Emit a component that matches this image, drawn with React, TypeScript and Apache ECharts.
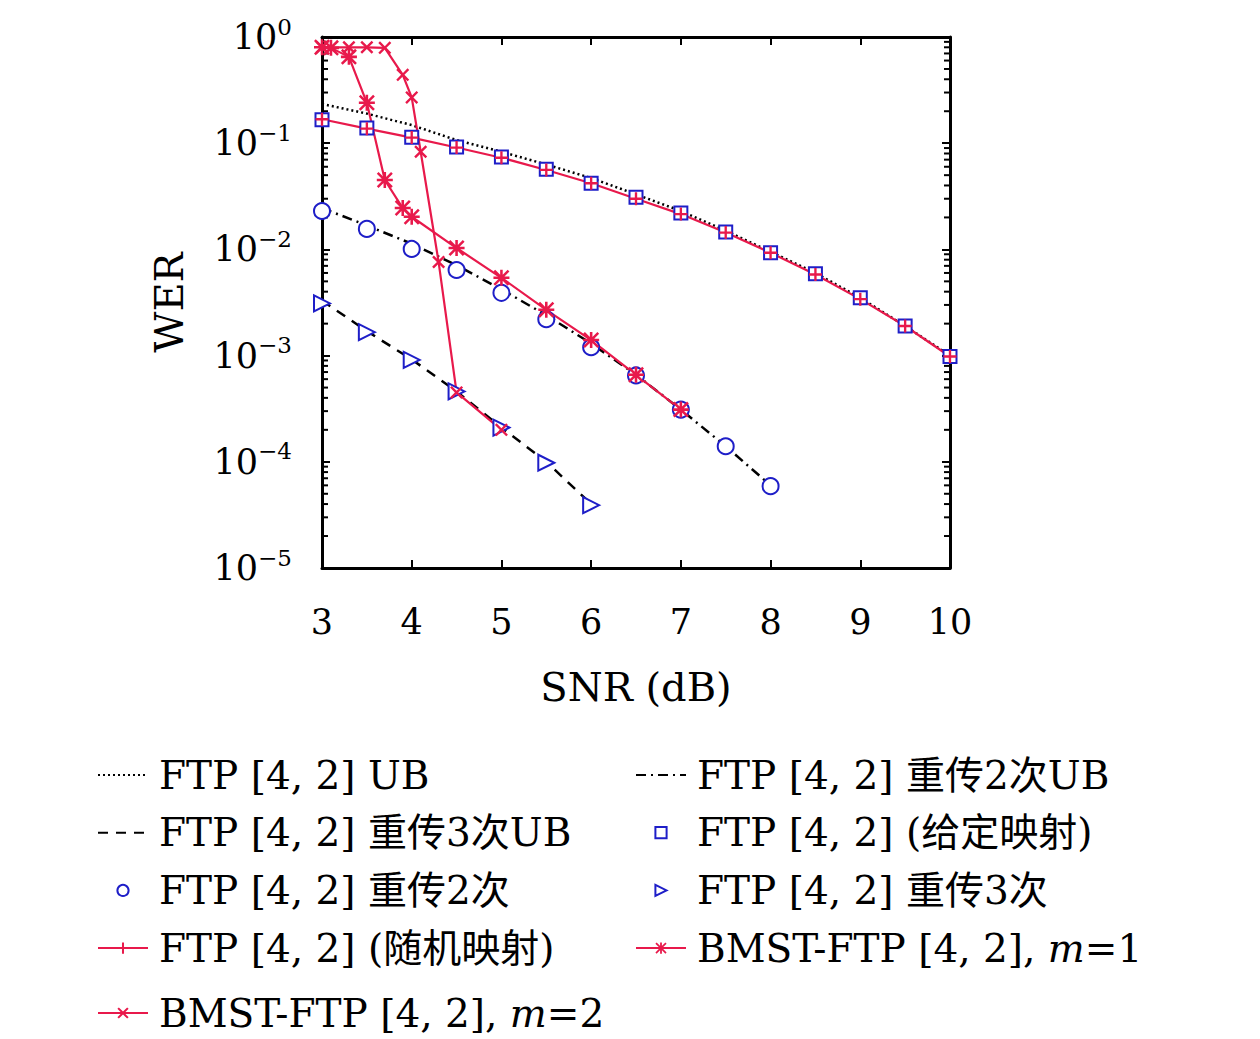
import React, { useEffect, useRef } from "react";
import * as echarts from "echarts";

const FONT = '"DejaVu Serif", "Noto Sans CJK SC", serif';

// ---- data ----
const snrHalf = [3, 3.5, 4, 4.5, 5, 5.5, 6, 6.5, 7, 7.5, 8, 8.5, 9, 9.5, 10];
const ftpUB = [0.234, 0.19, 0.148, 0.107, 0.083, 0.063, 0.047, 0.033, 0.023, 0.015, 0.0095, 0.006, 0.0035, 0.0019, 0.001];
const ftpGiven = [0.166, 0.139, 0.114, 0.092, 0.074, 0.057, 0.042, 0.031, 0.022, 0.0146, 0.0093, 0.0059, 0.0035, 0.0019, 0.00098];
const ftpRandom = [0.168, 0.137, 0.113, 0.091, 0.073, 0.056, 0.042, 0.03, 0.0215, 0.0144, 0.0093, 0.0058, 0.0034, 0.0019, 0.00098];

const snrRetx2 = [3, 3.5, 4, 4.5, 5, 5.5, 6, 6.5, 7, 7.5, 8];
const retx2UB = [0.0245, 0.0168, 0.0113, 0.0071, 0.0042, 0.0024, 0.0013, 0.00066, 0.00031, 0.00014, 0.00006];
const retx2 = [0.023, 0.0156, 0.0101, 0.0064, 0.0039, 0.0022, 0.0012, 0.00065, 0.00031, 0.00014, 0.000059];

const snrRetx3 = [3, 3.5, 4, 4.5, 5, 5.5, 6];
const retx3UB = [0.0033, 0.0017, 0.00092, 0.00046, 0.00021, 0.0001, 0.00004];
const retx3 = [0.0031, 0.00166, 0.00091, 0.00046, 0.00021, 0.000098, 0.000039];

const snrM1 = [3.0, 3.1, 3.3, 3.5, 3.7, 3.9, 4.0, 4.5, 5.0, 5.5, 6.0, 6.5, 7.0];
const bmstM1 = [0.8, 0.79, 0.65, 0.24, 0.045, 0.0245, 0.0203, 0.0103, 0.0054, 0.0027, 0.0014, 0.00066, 0.00031];

const snrM2 = [3.0, 3.3, 3.5, 3.7, 3.9, 4.0, 4.1, 4.3, 4.5, 5.0];
const bmstM2 = [0.8, 0.8, 0.8, 0.79, 0.44, 0.27, 0.083, 0.0076, 0.00045, 0.0002];

const X_MIN = 3;
const X_MAX = 10;
const Y_MIN = 1e-5;
const Y_MAX = 1;

const N_UB = "FTP [4, 2] UB";
const N_UB2 = "FTP [4, 2] 重传2次UB";
const N_UB3 = "FTP [4, 2] 重传3次UB";
const N_GIVEN = "FTP [4, 2] (给定映射)";
const N_R2 = "FTP [4, 2] 重传2次";
const N_R3 = "FTP [4, 2] 重传3次";
const N_RAND = "FTP [4, 2] (随机映射)";
const N_M1 = "BMST-FTP [4, 2], m=1";
const N_M2 = "BMST-FTP [4, 2], m=2";

const zip = (xs: number[], ys: number[]) => xs.map((x, i) => [x, ys[i]]);

const RED = "#e8194b";
const BLUE = "#1e1ec8";

const PLUS = "path://M4.1,0H5.9V4.1H10V5.9H5.9V10H4.1V5.9H0V4.1H4.1Z";
const CROSS = "path://M1.3,0L5,3.7L8.7,0L10,1.3L6.3,5L10,8.7L8.7,10L5,6.3L1.3,10L0,8.7L3.7,5L0,1.3Z";
const STAR =
  "path://M4.2,0H5.8V4.2H10V5.8H5.8V10H4.2V5.8H0V4.2H4.2Z M1.1,0L5,3.9L8.9,0L10,1.1L6.1,5L10,8.9L8.9,10L5,6.1L1.1,10L0,8.9L3.9,5L0,1.1Z";

const minorVals: number[] = [];
for (let e = -5; e < 0; e++) {
  for (let k = 2; k <= 9; k++) minorVals.push(k * Math.pow(10, e));
}

export default function App() {
  const ref = useRef<HTMLDivElement>(null);
  useEffect(() => {
    if (!ref.current) return;
    const chart = echarts.init(ref.current, null, { renderer: "svg" });
    const axisText = { fontFamily: FONT, fontSize: 35, color: "#000" };
    const LF = 39;
    const legendText = {
      fontFamily: FONT,
      fontSize: LF,
      color: "#000",
      lineHeight: 40,
      padding: [0, 0, 0, 6],
      rich: {
        n: { fontFamily: FONT, fontSize: LF, color: "#000" },
        i: { fontFamily: FONT, fontSize: LF, color: "#000", fontStyle: "italic" },
      },
    };
    const legendFmt = (name: string) => {
      const idx = name.indexOf("m=");
      if (idx >= 0) {
        return `{n|${name.slice(0, idx)}}{i|m}{n|${name.slice(idx + 1)}}`;
      }
      return `{n|${name}}`;
    };
    const legendBase = {
      orient: "vertical",
      padding: 0,
      itemGap: 17.7,
      itemWidth: 50,
      itemHeight: 14,
      textStyle: legendText,
      formatter: legendFmt,
      selectedMode: false,
    };
    const lineOnly = (name: string) => ({ name, itemStyle: { opacity: 0 } });
    const option: any = {
      animation: false,
      backgroundColor: "#ffffff",
      grid: { left: 322, top: 37, width: 628, height: 531, containLabel: false },
      xAxis: [
        {
          type: "value",
          min: X_MIN,
          max: X_MAX,
          interval: 1,
          position: "bottom",
          axisLine: { show: true, onZero: false, lineStyle: { color: "#000", width: 3 } },
          axisTick: { show: true, inside: true, length: 8, lineStyle: { color: "#000", width: 2 } },
          axisLabel: { ...axisText, margin: 36 },
          splitLine: { show: false },
          name: "SNR (dB)",
          nameLocation: "middle",
          nameGap: 99,
          nameTextStyle: { ...axisText, fontSize: 40 },
        },
        {
          type: "value",
          min: X_MIN,
          max: X_MAX,
          interval: 1,
          position: "top",
          axisLine: { show: true, onZero: false, lineStyle: { color: "#000", width: 3 } },
          axisTick: { show: true, inside: true, length: 8, lineStyle: { color: "#000", width: 2 } },
          axisLabel: { show: false },
          splitLine: { show: false },
        },
      ],
      yAxis: [
        {
          type: "log",
          logBase: 10,
          min: Y_MIN,
          max: Y_MAX,
          splitNumber: 5,
          position: "left",
          axisLine: { show: true, onZero: false, lineStyle: { color: "#000", width: 3 } },
          axisTick: { show: true, inside: true, length: 8, lineStyle: { color: "#000", width: 2 } },
          splitLine: { show: false },
          axisLabel: {
            margin: 30,
            formatter: (v: number) => {
              const e = Math.round(Math.log10(v));
              const s = e < 0 ? "\u2212" + Math.abs(e) : String(e);
              return `{b|10}{s|${s}}`;
            },
            rich: {
              b: { fontFamily: FONT, fontSize: 35, color: "#000", lineHeight: 44 },
              s: { fontFamily: FONT, fontSize: 23, color: "#000", verticalAlign: "top", lineHeight: 24 },
            },
          },
          name: "WER",
          nameLocation: "middle",
          nameRotate: 90,
          nameGap: 133,
          nameTextStyle: { ...axisText, fontSize: 40 },
        },
        {
          type: "log",
          logBase: 10,
          min: Y_MIN,
          max: Y_MAX,
          splitNumber: 5,
          position: "right",
          axisLine: { show: true, onZero: false, lineStyle: { color: "#000", width: 3 } },
          axisTick: { show: true, inside: true, length: 8, lineStyle: { color: "#000", width: 2 } },
          axisLabel: { show: false },
          splitLine: { show: false },
        },
      ],
      legend: [
        { ...legendBase, left: 97, top: 755, data: [lineOnly(N_UB), lineOnly(N_UB3), N_R2, N_RAND] },
        { ...legendBase, left: 635, top: 755, data: [lineOnly(N_UB2), N_GIVEN, N_R3, N_M1] },
        { ...legendBase, left: 97, top: 993, data: [N_M2] },
      ],
      series: [
        {
          type: "custom",
          name: "minorTicks",
          silent: true,
          clip: false,
          data: minorVals.map((v) => [X_MIN, v]),
          renderItem: (params: any, api: any) => {
            const v = api.value(1);
            const l = api.coord([X_MIN, v]);
            const r = api.coord([X_MAX, v]);
            const st = { stroke: "#000", lineWidth: 2 };
            return {
              type: "group",
              children: [
                { type: "line", shape: { x1: l[0], y1: l[1], x2: l[0] + 6, y2: l[1] }, style: st },
                { type: "line", shape: { x1: r[0] - 6, y1: r[1], x2: r[0], y2: r[1] }, style: st },
              ],
            };
          },
        },
        {
          type: "line",
          name: N_UB,
          data: zip(snrHalf, ftpUB),
          symbol: "none",
          lineStyle: { color: "#000", width: 2.5, type: [2, 3] },
          itemStyle: { color: "#000" },
        },
        {
          type: "line",
          name: N_UB2,
          data: zip(snrRetx2, retx2UB),
          symbol: "none",
          lineStyle: { color: "#000", width: 2.5, type: [10, 5, 2, 5] },
          itemStyle: { color: "#000" },
        },
        {
          type: "line",
          name: N_UB3,
          data: zip(snrRetx3, retx3UB),
          symbol: "none",
          lineStyle: { color: "#000", width: 2.5, type: [10, 8] },
          itemStyle: { color: "#000" },
        },
        {
          type: "line",
          name: N_GIVEN,
          data: zip(snrHalf, ftpGiven),
          symbol: "emptyRect",
          symbolSize: 13,
          showAllSymbol: true,
          lineStyle: { width: 0, opacity: 0 },
          itemStyle: { color: BLUE, borderColor: BLUE, borderWidth: 2.2 },
        },
        {
          type: "line",
          name: N_R2,
          data: zip(snrRetx2, retx2),
          symbol: "emptyCircle",
          symbolSize: 16,
          showAllSymbol: true,
          lineStyle: { width: 0, opacity: 0 },
          itemStyle: { color: BLUE, borderColor: BLUE, borderWidth: 2.4 },
        },
        {
          type: "line",
          name: N_R3,
          data: zip(snrRetx3, retx3),
          symbol: "emptyTriangle",
          symbolRotate: -90,
          symbolSize: 16,
          showAllSymbol: true,
          lineStyle: { width: 0, opacity: 0 },
          itemStyle: { color: BLUE, borderColor: BLUE, borderWidth: 2.4 },
        },
        {
          type: "line",
          name: N_RAND,
          data: zip(snrHalf, ftpRandom),
          symbol: PLUS,
          symbolSize: 13,
          showAllSymbol: true,
          lineStyle: { color: RED, width: 2.2 },
          itemStyle: { color: RED },
        },
        {
          type: "line",
          name: N_M1,
          data: zip(snrM1, bmstM1),
          symbol: STAR,
          symbolSize: 16,
          showAllSymbol: true,
          lineStyle: { color: RED, width: 2.2 },
          itemStyle: { color: RED },
        },
        {
          type: "line",
          name: N_M2,
          data: zip(snrM2, bmstM2),
          symbol: CROSS,
          symbolSize: 13,
          showAllSymbol: true,
          lineStyle: { color: RED, width: 2.2 },
          itemStyle: { color: RED },
        },
      ],
    };
    chart.setOption(option);
    return () => chart.dispose();
  }, []);
  return (
    <div
      ref={ref}
      style={{ position: "absolute", left: 0, top: 0, width: 1260, height: 1039, background: "#fff" }}
    />
  );
}
